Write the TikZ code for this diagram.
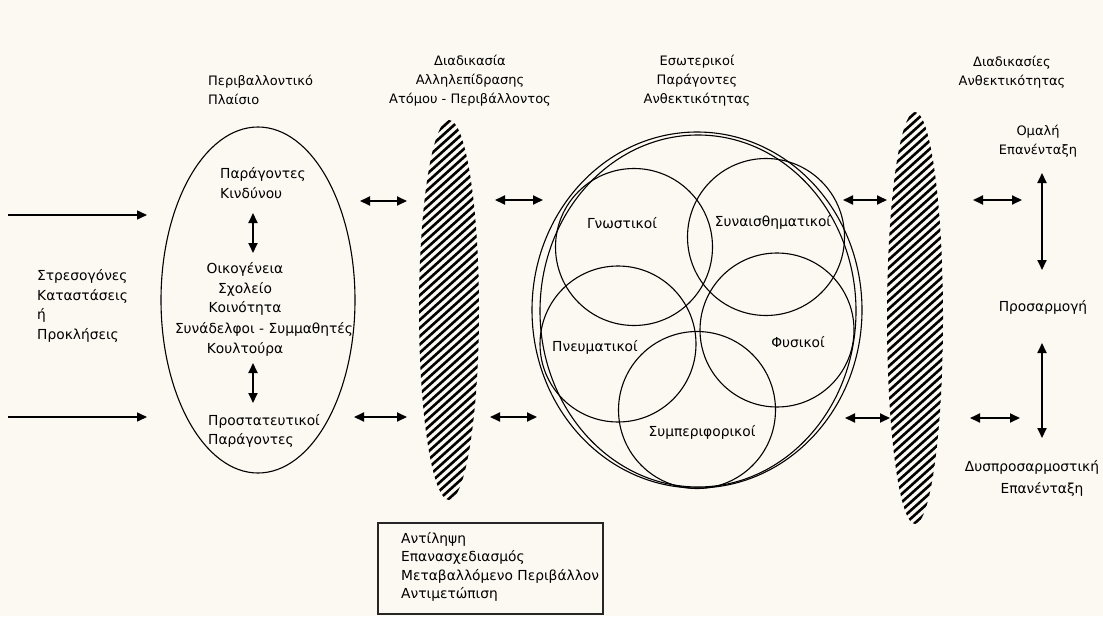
\documentclass[tikz,border=0pt]{standalone}
\usepackage{fontspec}
\setmainfont{DejaVu Sans}
\usetikzlibrary{arrows.meta,shapes.geometric}
\definecolor{bg}{RGB}{252,248,242}
\begin{document}
\begin{tikzpicture}[x=1pt,y=-1pt,
  txt/.style={font=\fontsize{13.8}{19.5}\selectfont, align=center, inner sep=0pt},
  txtl/.style={txt, align=left},
  head/.style={txt, font=\fontsize{13}{19}\selectfont},
  dbl/.style={{Triangle[length=10pt,width=9pt]}-{Triangle[length=10pt,width=9pt]}, line width=1.8pt},
  one/.style={-{Triangle[length=10pt,width=9pt]}, line width=1.5pt},
  ring/.style={draw, line width=1.1pt, inner sep=0pt},
  hatchline/.style={line width=2.6pt}]
\fill[bg] (0,0) rectangle (1103,616);
\useasboundingbox (0,0) rectangle (1103,616);

% headings
\node[head, align=left, anchor=west] (hEnv) at (208,90) {Περιβαλλοντικό\\Πλαίσιο};
\node[head] (hInt) at (470,81) {Διαδικασία\\Αλληλεπίδρασης\\Ατόμου - Περιβάλλοντος};
\node[head] (hInn) at (697,81) {Εσωτερικοί\\Παράγοντες\\Ανθεκτικότητας};
\node[head] (hRes) at (1012,72) {Διαδικασίες\\Ανθεκτικότητας};

% left text and arrows
\node[txtl, anchor=west] (stress) at (37,306) {Στρεσογόνες\\Καταστάσεις\\ή\\Προκλήσεις};
\coordinate (l1s) at (8,215); \coordinate (l1e) at (147,215);
\coordinate (l2s) at (8,417); \coordinate (l2e) at (147,417);
\draw[one] (l1s) -- (l1e);
\draw[one] (l2s) -- (l2e);

% environment ellipse
\node[draw, ellipse, line width=1.1pt, minimum width=194pt, minimum height=346pt, inner sep=0pt] (env) at (258,300) {};
\node[txtl, anchor=west] (risk) at (220,183) {Παράγοντες\\Κινδύνου};
\node[txt] (fam) at (245,289) {Οικογένεια\\Σχολείο\\Κοινότητα};
\node[txt] (coll) at (264,329) {Συνάδελφοι - Συμμαθητές};
\node[txt] (cult) at (245,349) {Κουλτούρα};
\node[txtl, anchor=west] (prot) at (208,431) {Προστατευτικοί\\Παράγοντες};
\coordinate (v1a) at (253,213); \coordinate (v1b) at (253,253);
\coordinate (v2a) at (253,363); \coordinate (v2b) at (253,403);
\draw[dbl] (v1a) -- (v1b);
\draw[dbl] (v2a) -- (v2b);

% hatched ellipse 1
\coordinate (hz1) at (449,310);
\begin{scope}
  \clip (449,310) ellipse [x radius=30pt, y radius=190pt];
  \foreach \k in {-28,...,28}
    \draw[hatchline] (409,310+8.2*\k+36) -- (489,310+8.2*\k-36);
\end{scope}

% hatched ellipse 2
\coordinate (hz2) at (915,318);
\begin{scope}
  \clip (915,318) ellipse [x radius=28pt, y radius=206pt];
  \foreach \k in {-30,...,30}
    \draw[hatchline] (875,318+8.2*\k+36) -- (955,318+8.2*\k-36);
\end{scope}

% double arrows
\coordinate (a1s) at (360,201); \coordinate (a1e) at (407,201);
\coordinate (a2s) at (354,417); \coordinate (a2e) at (407,417);
\coordinate (a3s) at (495,200); \coordinate (a3e) at (543,200);
\coordinate (a4s) at (490,417); \coordinate (a4e) at (537,417);
\coordinate (a5s) at (843,200); \coordinate (a5e) at (887,200);
\coordinate (a6s) at (845,418); \coordinate (a6e) at (890,418);
\coordinate (a7s) at (973,200); \coordinate (a7e) at (1022,200);
\coordinate (a8s) at (970,418); \coordinate (a8e) at (1020,418);
\foreach \i in {1,...,8} \draw[dbl] (a\i s) -- (a\i e);

% inner factors
\node[draw, ellipse, line width=1.1pt, minimum width=330pt, minimum height=356pt, inner sep=0pt] (outer) at (697,310) {};
\node[draw, ellipse, line width=1.1pt, minimum width=316pt, minimum height=352pt, inner sep=0pt] (outer2) at (698,311) {};
\node[ring, circle, minimum size=157pt] (cGn) at (634,247) {};
\node[ring, circle, minimum size=157pt] (cSy) at (766,237) {};
\node[ring, circle, minimum size=156pt] (cPn) at (618,344) {};
\node[ring, circle, minimum size=154pt] (cFy) at (777,330) {};
\node[ring, circle, minimum size=157pt] (cBe) at (697,410) {};
\node[txt] (tGn) at (622,223) {Γνωστικοί};
\node[txt] (tSy) at (773,222) {Συναισθηματικοί};
\node[txt] (tPn) at (595,347) {Πνευματικοί};
\node[txt] (tFy) at (798,342) {Φυσικοί};
\node[txt] (tBe) at (702,432) {Συμπεριφορικοί};

% outcomes
\node[head] (smooth) at (1038,141) {Ομαλή\\Επανένταξη};
\node[txt] (adapt) at (1043,307) {Προσαρμογή};
\node[txt] (mal) at (1032,467) {Δυσπροσαρμοστική};
\node[txt] (mal2) at (1042,489) {Επανένταξη};
\coordinate (r1a) at (1042,173); \coordinate (r1b) at (1042,270);
\coordinate (r2a) at (1042,343); \coordinate (r2b) at (1042,438);
\draw[dbl] (r1a) -- (r1b);
\draw[dbl] (r2a) -- (r2b);

% bottom box
\node[draw=black!85, line width=1.6pt, minimum width=225pt, minimum height=91pt, inner sep=0pt] (box) at (490.5,568.5) {};
\node[txtl, anchor=west, font=\fontsize{13.8}{18.3}\selectfont] (boxt) at (401,567) {Αντίληψη\\Επανασχεδιασμός\\Μεταβαλλόμενο Περιβάλλον\\Αντιμετώπιση};
\end{tikzpicture}
\end{document}
